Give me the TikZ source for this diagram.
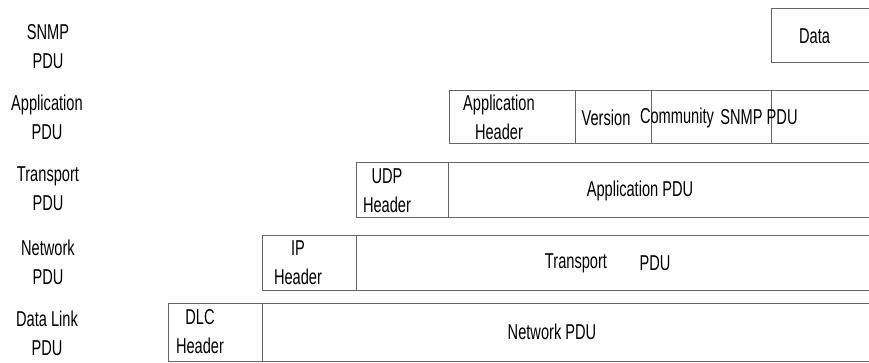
\documentclass[tikz,border=0pt]{standalone}
\usepackage{fontspec}
\setmainfont{Liberation Sans}[FakeStretch=0.68]
\usetikzlibrary{positioning}

\begin{document}
\begin{tikzpicture}[x=1pt,y=-1pt,node distance=0pt,
  every node/.style={align=center,inner sep=0pt,outer sep=0pt,font=\fontsize{21.5}{29}\selectfont},
  cell/.style={draw=black!60,line width=1pt,rectangle,anchor=north west}]
 \useasboundingbox (0,0) rectangle (869,363);
 % layer names
 \node (snmplbl) at (48,47) {SNMP\\PDU};
 \node (applbl) at (47,117) {Application\\PDU};
 \node (trlbl) at (48,189) {Transport\\PDU};
 \node (netlbl) at (48,262) {Network\\PDU};
 \node (dllbl) at (47,333) {Data Link\\PDU};
 % SNMP
 \node[cell, minimum width=101pt, minimum height=54pt] (data) at (771,9) {};
 \node (datatxt) at ([xshift=-7pt]data.center) {Data};
 % application
 \node[cell, minimum width=126pt, minimum height=53pt] (apphdr) at (449,91) {};
 \node[cell, minimum width=76pt, minimum height=53pt, right=of apphdr] (ver) {};
 \node[cell, minimum width=120pt, minimum height=53pt, right=of ver] (comm) {};
 \node[cell, minimum width=101pt, minimum height=53pt, right=of comm] (apprest) {};
 \node (apphdrtxt) at ([xshift=-13pt]apphdr.center) {Application\\Header};
 \node (vertxt) at ([xshift=-7pt]ver.center) {Version};
 \node (commtxt) at ([xshift=-34pt]comm.center) {Community};
 \node (snmptxt) at ([xshift=48pt]comm.center) {SNMP PDU};
 % transport
 \node[cell, minimum width=92pt, minimum height=55pt] (udphdr) at (356,163) {};
 \node[cell, minimum width=424pt, minimum height=55pt, right=of udphdr] (apppdu) {};
 \node (udptxt) at ([xshift=-15pt]udphdr.center) {UDP\\Header};
 \node (apppdutxt) at ([xshift=-20pt]apppdu.center) {Application PDU};
 % network
 \node[cell, minimum width=94pt, minimum height=54pt] (iphdr) at (262,236) {};
 \node[cell, minimum width=516pt, minimum height=54pt, right=of iphdr] (trpdu) {};
 \node (iptxt) at ([xshift=-11pt]iphdr.center) {IP\\Header};
 \node (trtxt) at ([xshift=-38pt]trpdu.center) {Transport};
 \node (trpdutxt) at ([xshift=41pt]trpdu.center) {PDU};
 % data link
 \node[cell, minimum width=94pt, minimum height=58pt] (dlchdr) at (168,303) {};
 \node[cell, minimum width=610pt, minimum height=58pt, right=of dlchdr] (netpdu) {};
 \node (dlctxt) at ([xshift=-15pt]dlchdr.center) {DLC\\Header};
 \node (netpdutxt) at ([xshift=-15pt]netpdu.center) {Network PDU};
\end{tikzpicture}
\end{document}
